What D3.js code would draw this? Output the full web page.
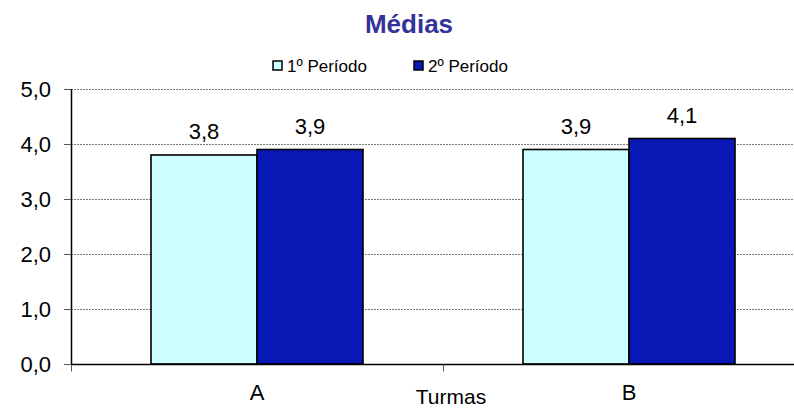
<!DOCTYPE html>
<html>
<head>
<meta charset="utf-8">
<script src="https://cdn.jsdelivr.net/npm/d3@7"></script>
<style>
  body { margin: 0; background: #fff; }
  svg { display: block; font-family: Arial, "Liberation Sans", sans-serif; }
</style>
</head>
<body>
<div id="chart"></div>
<script>
/* data */
var turmas = ['A', 'B'];
var series = ['1º Período', '2º Período'];
var periodo1 = [3.8, 3.9];
var periodo2 = [3.9, 4.1];
var yTicks = [0, 1, 2, 3, 4, 5];
var colors = ['#ccffff', '#0718b5'];

var iWidth = 794, iHeight = 409;
var margin = { left: 71, right: -21, top: 89, bottom: 45 };

var rows = turmas.map(function (t, i) {
  return { turma: t, vals: [periodo1[i], periodo2[i]] };
});

var svg = d3.select('#chart').append('svg')
  .attr('width', iWidth)
  .attr('height', iHeight);

var x = d3.scaleBand()
  .domain(turmas)
  .range([margin.left, iWidth - margin.right]);

var y = d3.scaleLinear()
  .domain([0, 5])
  .range([iHeight - margin.bottom, margin.top]);

var barW = 106;

// gridlines
svg.append('g').selectAll('line')
  .data(yTicks.filter(function (d) { return d > 0; }))
  .enter().append('line')
  .attr('x1', margin.left).attr('x2', iWidth)
  .attr('y1', function (d) { return y(d) + 0.5; })
  .attr('y2', function (d) { return y(d) + 0.5; })
  .attr('stroke', '#7a7a7a')
  .attr('stroke-width', 1)
  .attr('stroke-dasharray', '2,1');

// bars
var grp = svg.append('g').selectAll('g')
  .data(rows)
  .enter().append('g');

grp.selectAll('rect')
  .data(function (d) { return d.vals.map(function (v, j) { return { turma: d.turma, v: v, j: j }; }); })
  .enter().append('rect')
  .attr('x', function (d) { return x(d.turma) + x.bandwidth() / 2 - barW + d.j * barW; })
  .attr('y', function (d) { return y(d.v); })
  .attr('width', barW)
  .attr('height', function (d) { return y(0) - y(d.v); })
  .attr('fill', function (d) { return colors[d.j]; })
  .attr('stroke', '#000')
  .attr('stroke-width', 1.6);

grp.selectAll('text')
  .data(function (d) { return d.vals.map(function (v, j) { return { turma: d.turma, v: v, j: j }; }); })
  .enter().append('text')
  .attr('x', function (d) { return x(d.turma) + x.bandwidth() / 2 - barW / 2 + d.j * barW; })
  .attr('y', function (d) { return y(d.v) - 16; })
  .attr('text-anchor', 'middle')
  .style('font-size', '22px')
  .text(function (d) { return d3.format('.1f')(d.v).replace('.', ','); });

// y axis
var yAxis = svg.append('g')
  .attr('transform', 'translate(' + margin.left + ',0)')
  .call(d3.axisLeft(y).tickValues(yTicks).tickSize(7).tickPadding(13)
    .tickFormat(function (d) { return d3.format('.1f')(d).replace('.', ','); }));
yAxis.select('.domain').attr('stroke', '#000').attr('stroke-width', 1.5).attr('d', 'M0.5,' + y(5) + 'V' + y(0));
yAxis.selectAll('.tick line').attr('stroke', '#555');
yAxis.selectAll('text').style('font-size', '22px').attr('fill', '#000').attr('dy', '0.36em');

// x axis
var xAxis = svg.append('g')
  .attr('transform', 'translate(0,' + (y(0) + 0.5) + ')');
xAxis.append('line')
  .attr('x1', margin.left).attr('x2', iWidth)
  .attr('stroke', '#000').attr('stroke-width', 1.5);
xAxis.selectAll('.xt')
  .data([margin.left, x('B')])
  .enter().append('line')
  .attr('x1', function (d) { return d + 0.5; }).attr('x2', function (d) { return d + 0.5; })
  .attr('y1', 0).attr('y2', 7)
  .attr('stroke', '#555');
xAxis.selectAll('.xl')
  .data(turmas)
  .enter().append('text')
  .attr('x', function (d) { return x(d) + x.bandwidth() / 2; })
  .attr('y', 35)
  .attr('text-anchor', 'middle')
  .style('font-size', '22px')
  .text(function (d) { return d; });

svg.append('text')
  .attr('x', 451).attr('y', 404)
  .attr('text-anchor', 'middle')
  .style('font-size', '21px')
  .text('Turmas');

// title
svg.append('text')
  .attr('x', 409).attr('y', 33)
  .attr('text-anchor', 'middle')
  .style('font-size', '26px')
  .style('font-weight', 'bold')
  .attr('fill', '#333399')
  .text('Médias');

// legend
var legX = [273, 414];
var leg = svg.append('g').selectAll('g')
  .data(series)
  .enter().append('g')
  .attr('transform', function (d, i) { return 'translate(' + legX[i] + ',61)'; });
leg.append('rect')
  .attr('width', 9).attr('height', 9)
  .attr('fill', function (d, i) { return colors[i]; })
  .attr('stroke', '#000').attr('stroke-width', 1.5);
leg.append('text')
  .attr('x', 14).attr('y', 11)
  .style('font-size', '17px')
  .text(function (d) { return d; });
</script>
</body>
</html>
